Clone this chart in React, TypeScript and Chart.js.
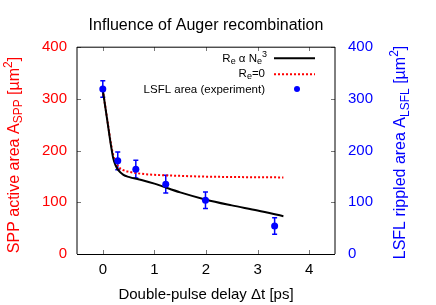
import React, { useEffect, useRef } from "react";
import { Chart, registerables } from "chart.js";
Chart.register(...registerables);

const FONT = '"Liberation Sans", Arial, Helvetica, sans-serif';

// model curves
const curveX = [0, 0.05, 0.1, 0.15, 0.2, 0.25, 0.3, 0.4, 0.5, 0.75, 1, 1.5, 2, 2.5, 3, 3.5];
const augerY = [317, 283, 249, 215, 186, 171, 162, 153, 149, 143, 136, 119, 105, 94, 84, 73];
const noAugerY = [317, 284, 251, 218, 192, 178, 169, 162, 159, 155, 153, 151, 149.5, 148.8, 148.3, 148];

// experiment
const expX = [0, 0.29, 0.64, 1.22, 1.99, 3.33];
const expY = [319, 180, 164, 135, 104, 54];
const expErr = [16, 17, 17, 17, 16, 16];

const xTicks = [0, 1, 2, 3, 4];
const yTicks = [0, 100, 200, 300, 400];

const titleText = "Influence of Auger recombination";
const xTitle = "Double-pulse delay \u0394t [ps]";

type Part = { t: string; s?: number; dy?: number };

function drawRich(
  ctx: CanvasRenderingContext2D,
  parts: Part[],
  x: number,
  y: number,
  align: "left" | "center" | "right",
  base: number,
  color: string
) {
  const widths = parts.map((p) => {
    ctx.font = `${p.s ?? base}px ${FONT}`;
    return ctx.measureText(p.t).width;
  });
  const total = widths.reduce((a, b) => a + b, 0);
  let cx = align === "center" ? x - total / 2 : align === "right" ? x - total : x;
  ctx.textAlign = "left";
  ctx.textBaseline = "alphabetic";
  ctx.fillStyle = color;
  parts.forEach((p, i) => {
    ctx.font = `${p.s ?? base}px ${FONT}`;
    ctx.fillText(p.t, cx, y + (p.dy ?? 0));
    cx += widths[i];
  });
}

const decorPlugin = {
  id: "decor",
  beforeDatasetsDraw(chart: any) {
    const ctx: CanvasRenderingContext2D = chart.ctx;
    const xs = chart.scales.x;
    const ys = chart.scales.y;
    ctx.save();
    ctx.strokeStyle = "#0000ff";
    ctx.lineWidth = 1.5;
    expX.forEach((xv, i) => {
      const px = xs.getPixelForValue(xv);
      const top = ys.getPixelForValue(expY[i] + expErr[i]);
      const bot = ys.getPixelForValue(expY[i] - expErr[i]);
      ctx.beginPath();
      ctx.moveTo(px, top);
      ctx.lineTo(px, bot);
      ctx.moveTo(px - 2.5, top);
      ctx.lineTo(px + 2.5, top);
      ctx.moveTo(px - 2.5, bot);
      ctx.lineTo(px + 2.5, bot);
      ctx.stroke();
    });
    ctx.restore();
  },
  afterDraw(chart: any) {
    const ctx: CanvasRenderingContext2D = chart.ctx;
    const a = chart.chartArea;
    const xs = chart.scales.x;
    const ys = chart.scales.y;
    ctx.save();
    // inward ticks
    ctx.strokeStyle = "#777";
    ctx.lineWidth = 1;
    ctx.beginPath();
    xTicks.forEach((v) => {
      const px = Math.round(xs.getPixelForValue(v)) + 0.5;
      ctx.moveTo(px, a.bottom);
      ctx.lineTo(px, a.bottom - 4);
      ctx.moveTo(px, a.top);
      ctx.lineTo(px, a.top + 4);
    });
    yTicks.forEach((v) => {
      const py = Math.round(ys.getPixelForValue(v)) + 0.5;
      ctx.moveTo(a.left, py);
      ctx.lineTo(a.left + 4, py);
      ctx.moveTo(a.right, py);
      ctx.lineTo(a.right - 4, py);
    });
    ctx.stroke();
    // border
    ctx.strokeStyle = "#000";
    ctx.lineWidth = 1;
    ctx.beginPath();
    ctx.moveTo(a.left, a.top + 0.2);
    ctx.lineTo(a.right, a.top + 0.2);
    ctx.moveTo(a.left, a.bottom + 0.5);
    ctx.lineTo(a.right, a.bottom + 0.5);
    ctx.moveTo(a.left, a.top);
    ctx.lineTo(a.left, a.bottom);
    ctx.moveTo(a.right, a.top);
    ctx.lineTo(a.right, a.bottom);
    ctx.stroke();

    // title
    drawRich(ctx, [{ t: titleText }], (a.left + a.right) / 2, 29.5, "center", 16, "#000");
    // x title
    drawRich(ctx, [{ t: xTitle }], (a.left + a.right) / 2, 298.5, "center", 15, "#000");

    // left y title
    ctx.save();
    ctx.translate(18.5, 155);
    ctx.rotate(-Math.PI / 2);
    drawRich(
      ctx,
      [
        { t: "SPP active area A" },
        { t: "SPP", s: 12, dy: 3.5 },
        { t: " [\u00b5m" },
        { t: "2", s: 12, dy: -7 },
        { t: "]" },
      ],
      0,
      0,
      "center",
      16,
      "#ff0000"
    );
    ctx.restore();
    // right y title
    ctx.save();
    ctx.translate(405, 152.5);
    ctx.rotate(-Math.PI / 2);
    drawRich(
      ctx,
      [
        { t: "LSFL rippled area A" },
        { t: "LSFL", s: 12, dy: 3.5 },
        { t: " [\u00b5m" },
        { t: "2", s: 12, dy: -7 },
        { t: "]" },
      ],
      0,
      0,
      "center",
      16,
      "#0000ff"
    );
    ctx.restore();

    // legend
    const lx = 265;
    const sx0 = 274;
    const sx1 = 315;
    const lines = [58.3, 74.3, 89];
    const bases = [61.7, 77.3, 93.3];
    const LF = 11.5;
    drawRich(
      ctx,
      [
        { t: "R" },
        { t: "e", s: 9, dy: 2 },
        { t: " \u03b1 N" },
        { t: "e", s: 9, dy: 2 },
        { t: "3", s: 9, dy: -4.5 },
      ],
      lx + 2,
      bases[0],
      "right",
      LF,
      "#000"
    );
    ctx.strokeStyle = "#000";
    ctx.lineWidth = 2;
    ctx.setLineDash([]);
    ctx.beginPath();
    ctx.moveTo(sx0, lines[0]);
    ctx.lineTo(sx1, lines[0]);
    ctx.stroke();

    drawRich(
      ctx,
      [{ t: "R" }, { t: "e", s: 9, dy: 2 }, { t: "=0" }],
      lx,
      bases[1],
      "right",
      LF,
      "#000"
    );
    ctx.strokeStyle = "#ff0000";
    ctx.setLineDash([2, 2]);
    ctx.beginPath();
    ctx.moveTo(sx0, lines[1]);
    ctx.lineTo(sx1, lines[1]);
    ctx.stroke();
    ctx.setLineDash([]);

    drawRich(ctx, [{ t: "LSFL area (experiment)" }], lx, bases[2], "right", LF, "#000");
    ctx.fillStyle = "#0000ff";
    ctx.beginPath();
    ctx.arc(297, lines[2], 3, 0, Math.PI * 2);
    ctx.fill();

    ctx.restore();
  },
};

export default function App() {
  const ref = useRef<HTMLCanvasElement | null>(null);
  useEffect(() => {
    if (!ref.current) return;
    const chart = new Chart(ref.current, {
      type: "line",
      data: {
        datasets: [
          {
            label: "LSFL area (experiment)",
            data: expX.map((x, i) => ({ x, y: expY[i] })),
            showLine: false,
            pointRadius: 3.5,
            pointBackgroundColor: "#0000ff",
            pointBorderColor: "#0000ff",
            pointBorderWidth: 0,
            borderColor: "#0000ff",
            backgroundColor: "#0000ff",
          },
          {
            label: "Re a Ne3",
            data: curveX.map((x, i) => ({ x, y: augerY[i] })),
            borderColor: "#000",
            borderWidth: 2,
            pointRadius: 0,
            cubicInterpolationMode: "monotone",
            fill: false,
          },
          {
            label: "Re=0",
            data: curveX.map((x, i) => ({ x, y: noAugerY[i] })),
            borderColor: "#ff0000",
            borderWidth: 2,
            borderDash: [2, 2],
            pointRadius: 0,
            cubicInterpolationMode: "monotone",
            fill: false,
          },
        ],
      },
      options: {
        animation: false,
        responsive: false,
        maintainAspectRatio: false,
        layout: { padding: { top: 47, left: 0, right: 0, bottom: 0 } },
        plugins: { legend: { display: false }, title: { display: false }, tooltip: { enabled: false } },
        scales: {
          x: {
            type: "linear",
            min: -0.5,
            max: 4.5,
            grid: { display: false, drawTicks: false },
            border: { display: false },
            afterBuildTicks: (s: any) => {
              s.ticks = xTicks.map((v) => ({ value: v }));
            },
            afterFit: (s: any) => {
              s.height = 51;
            },
            ticks: {
              padding: 7,
              autoSkip: false,
              maxRotation: 0,
              color: "#000",
              font: { family: FONT, size: 15 },
            },
          },
          y: {
            type: "linear",
            position: "left",
            min: 0,
            max: 400,
            grid: { display: false, drawTicks: false },
            border: { display: false },
            afterBuildTicks: (s: any) => {
              s.ticks = yTicks.map((v) => ({ value: v }));
            },
            afterFit: (s: any) => {
              s.width = 77;
            },
            ticks: { padding: 10, color: "#ff0000", font: { family: FONT, size: 15 } },
          },
          y1: {
            type: "linear",
            position: "right",
            min: 0,
            max: 400,
            grid: { display: false, drawTicks: false },
            border: { display: false },
            afterBuildTicks: (s: any) => {
              s.ticks = yTicks.map((v) => ({ value: v }));
            },
            afterFit: (s: any) => {
              s.width = 101;
            },
            ticks: { padding: 13, color: "#0000ff", font: { family: FONT, size: 15 } },
          },
        },
      },
      plugins: [decorPlugin],
    } as any);
    return () => chart.destroy();
  }, []);
  return (
    <div style={{ position: "fixed", left: 0, top: 0, width: 436, height: 305, background: "#fff" }}>
      <canvas ref={ref} width={436} height={305} style={{ display: "block", width: 436, height: 305 }} />
    </div>
  );
}
